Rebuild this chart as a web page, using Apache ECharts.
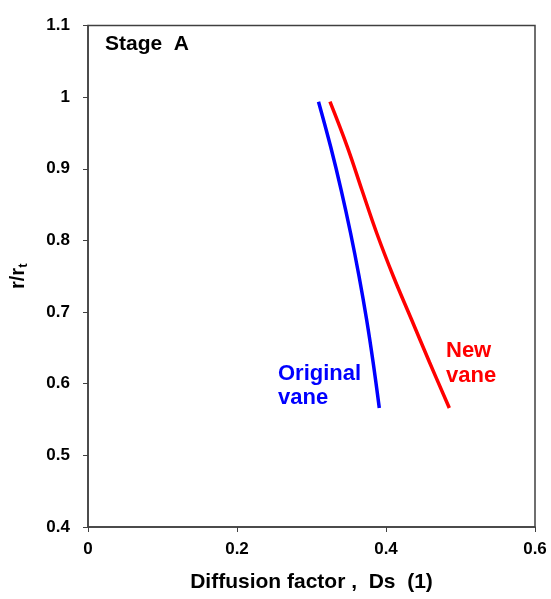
<!DOCTYPE html>
<html>
<head>
<meta charset="utf-8">
<script src="https://cdn.jsdelivr.net/npm/echarts@6/dist/echarts.min.js"></script>
<style>
  html, body { margin: 0; padding: 0; background: #fff; }
  #chart { width: 551px; height: 599px; }
</style>
</head>
<body>
<div id="chart"></div>
<script>
// Diffusion factor Ds along the span (r/rt), stage A
const spanR      = [0.9937, 0.93, 0.87, 0.81, 0.75, 0.69, 0.63, 0.5661];
const originalDs = [0.3094, 0.3259, 0.3399, 0.3525, 0.3638, 0.3739, 0.3827, 0.391];
const newDs      = [0.3248, 0.3483, 0.3678, 0.3876, 0.4098, 0.4341, 0.4584, 0.485];
const xTicks = [0, 0.2, 0.4, 0.6];
const yTicks = [0.4, 0.5, 0.6, 0.7, 0.8, 0.9, 1, 1.1];

const font = 'Liberation Sans, Arial, sans-serif';
const axisColor = '#404040';

const chart = echarts.init(document.getElementById('chart'));

const pairs = (xs, ys) => xs.map((x, i) => [x, ys[i]]);

chart.setOption({
  animation: false,
  grid: { left: 88, right: 16, top: 25.5, bottom: 72, show: true, borderColor: axisColor, borderWidth: 1.5 },
  xAxis: {
    type: 'value', min: xTicks[0], max: xTicks[xTicks.length - 1], interval: 0.2,
    axisLine: { show: true, lineStyle: { color: axisColor, width: 1.5 } },
    axisTick: { show: true, inside: false, length: 5, lineStyle: { color: axisColor } },
    splitLine: { show: false },
    axisLabel: { color: '#000', fontFamily: font, fontWeight: 'bold', fontSize: 17, margin: 14,
      formatter: v => String(+v.toFixed(2)) },
    name: 'Diffusion factor ,  Ds  (1)', nameLocation: 'middle', nameGap: 45,
    nameTextStyle: { color: '#000', fontFamily: font, fontWeight: 'bold', fontSize: 21 }
  },
  yAxis: {
    type: 'value', min: yTicks[0], max: yTicks[yTicks.length - 1], interval: 0.1,
    axisLine: { show: true, lineStyle: { color: axisColor, width: 1.5 } },
    axisTick: { show: true, inside: false, length: 5, lineStyle: { color: axisColor } },
    splitLine: { show: false },
    axisLabel: { color: '#000', fontFamily: font, fontWeight: 'bold', fontSize: 17, margin: 18,
      formatter: v => String(+v.toFixed(1)) },
    name: '{a|r/r}{s|t}', nameLocation: 'middle', nameGap: 58, nameRotate: 90,
    nameTextStyle: {
      rich: {
        a: { color: '#000', fontFamily: font, fontWeight: 'bold', fontSize: 20 },
        s: { color: '#000', fontFamily: font, fontWeight: 'bold', fontSize: 13, verticalAlign: 'bottom', padding: [10, 0, 0, 0] }
      }
    }
  },
  series: [
    {
      name: 'Original vane', type: 'line', data: pairs(originalDs, spanR),
      smooth: 0.4, showSymbol: false, lineStyle: { color: '#0000ff', width: 3.5 }
    },
    {
      name: 'New vane', type: 'line', data: pairs(newDs, spanR),
      smooth: 0.4, showSymbol: false, lineStyle: { color: '#ff0000', width: 3.5 }
    }
  ],
  graphic: [
    { type: 'text', left: 105, top: 34, style: { text: 'Stage  A', fill: '#000', font: 'bold 21px ' + font } },
    { type: 'text', left: 278, top: 362, style: { text: 'Original\nvane', fill: '#0000ff', font: 'bold 22px ' + font, lineHeight: 24 } },
    { type: 'text', left: 446, top: 338, style: { text: 'New\nvane', fill: '#ff0000', font: 'bold 22px ' + font, lineHeight: 25 } }
  ]
});
</script>
</body>
</html>
